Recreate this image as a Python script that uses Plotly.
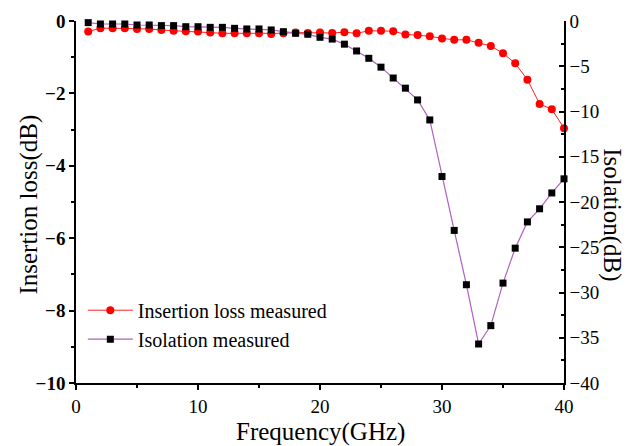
import plotly.graph_objects as go

freq = list(range(1, 41))
insertion_loss = [-0.29, -0.20, -0.20, -0.20, -0.22, -0.22, -0.25, -0.27, -0.28, -0.29,
                  -0.32, -0.34, -0.34, -0.34, -0.34, -0.36, -0.34, -0.32, -0.33, -0.32,
                  -0.33, -0.31, -0.34, -0.27, -0.27, -0.28, -0.37, -0.39, -0.42, -0.48,
                  -0.52, -0.52, -0.60, -0.69, -0.89, -1.17, -1.62, -2.29, -2.44, -2.96]
isolation = [-0.18, -0.33, -0.33, -0.33, -0.44, -0.44, -0.51, -0.51, -0.63, -0.63,
             -0.70, -0.70, -0.81, -0.88, -0.88, -0.99, -1.18, -1.36, -1.47, -1.80,
             -2.00, -2.56, -3.31, -4.12, -5.10, -6.30, -7.42, -8.72, -10.93, -17.18,
             -23.14, -29.14, -35.69, -33.66, -28.96, -25.10, -22.20, -20.75, -19.00, -17.44]

serif = "Liberation Serif"

fig = go.Figure()
fig.add_trace(go.Scatter(
    x=freq, y=insertion_loss, name="Insertion loss measured",
    mode="lines+markers", cliponaxis=False,
    line=dict(color="#FF2020", width=1),
    marker=dict(symbol="circle", size=8, color="#FF0000"),
))
fig.add_trace(go.Scatter(
    x=freq, y=isolation, name="Isolation measured", yaxis="y2",
    mode="lines+markers", cliponaxis=False,
    line=dict(color="#B060C0", width=1.2),
    marker=dict(symbol="square", size=7, color="#000000"),
))

axis_common = dict(showgrid=False, zeroline=False, automargin=False,
                   showline=True, linecolor="black", linewidth=1.5,
                   ticklen=5, tickwidth=1.5, tickcolor="black")

# page body adds an 8px offset; figure sized so the plot area lands where the reference has it
fig.update_layout(
    width=624, height=438,
    margin=dict(l=68, r=68, t=13, b=63),
    paper_bgcolor="white", plot_bgcolor="white",
    font=dict(family=serif, size=19, color="black"),
    showlegend=True,
    legend=dict(x=0.014, y=0.255, xanchor="left", yanchor="top",
                bgcolor="rgba(0,0,0,0)", font=dict(family=serif, size=20),
                itemwidth=45, tracegroupgap=0),
    xaxis=dict(range=[0, 40], dtick=10, ticks="outside",
               minor=dict(dtick=5, ticks="outside", ticklen=3, tickwidth=1.5, tickcolor="black"),
               tickfont=dict(family=serif, size=19), **axis_common),
    yaxis=dict(range=[-10, 0], dtick=2, ticks="outside",
               minor=dict(dtick=1, ticks="outside", ticklen=3, tickwidth=1.5, tickcolor="black"),
               tickfont=dict(family=serif, size=19, weight="bold"), **axis_common),
    yaxis2=dict(range=[-40, 0], dtick=5, overlaying="y", side="right", ticks="inside",
                minor=dict(dtick=2.5, ticks="inside", ticklen=3, tickwidth=1.5, tickcolor="black"),
                tickfont=dict(family=serif, size=19), **axis_common),
    annotations=[
        dict(text="Insertion loss(dB)", textangle=-90, xref="paper", yref="paper",
             x=-0.097, y=0.492, showarrow=False, xanchor="center", yanchor="middle",
             font=dict(family=serif, size=25)),
        dict(text="Frequency(GHz)", xref="paper", yref="paper",
             x=0.5, y=-0.135, showarrow=False, xanchor="center", yanchor="middle",
             font=dict(family=serif, size=25)),
        dict(text="Isolation(dB)", textangle=90, xref="paper", yref="paper",
             x=1.098, y=0.464, showarrow=False, xanchor="center", yanchor="middle",
             font=dict(family=serif, size=25)),
    ],
)

fig.write_html("out.html")
